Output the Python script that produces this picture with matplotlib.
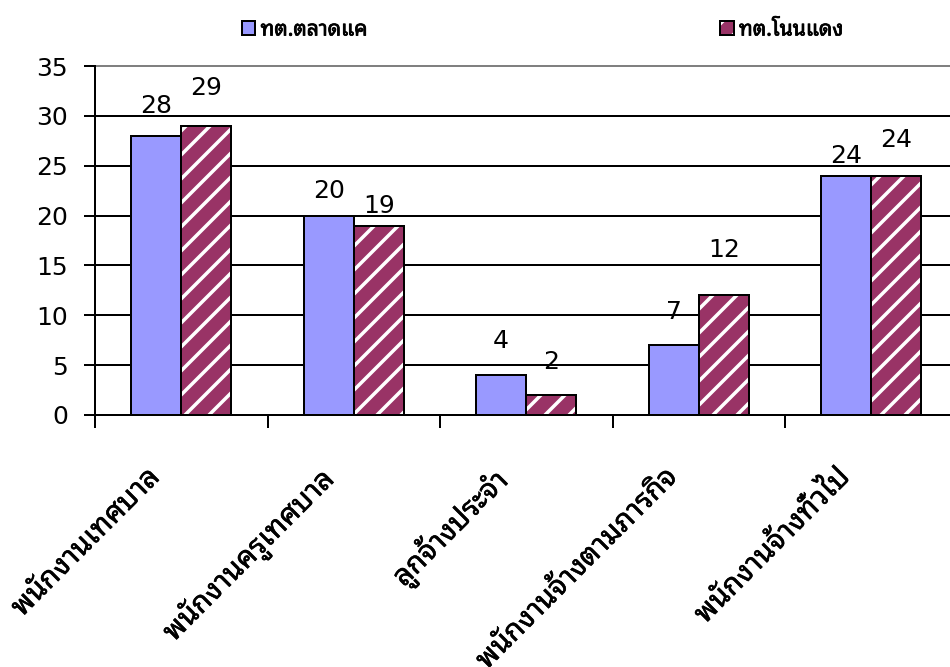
import matplotlib
matplotlib.use("Agg")
import matplotlib.pyplot as plt
import numpy as np
from matplotlib.patches import Patch
from matplotlib import patheffects as pe
from matplotlib.transforms import offset_copy, blended_transform_factory

# ---- data ----
categories = ["พนักงานเทศบาล", "พนักงานครูเทศบาล", "ลูกจ้างประจำ",
              "พนักงานจ้างตามภารกิจ", "พนักงานจ้างทั่วไป"]
series_names = ["ทต.ตลาดแค", "ทต.โนนแดง"]
talad_khae = [28, 20, 4, 7, 24]
non_daeng = [29, 19, 2, 12, 24]
y_ticks = [0, 5, 10, 15, 20, 25, 30, 35]

# ---- layout / style ----
label_offsets_a = [30, 25, 34, 33, 20]   # px above bar top (label centre)
label_offsets_b = [38, 20, 33, 45, 36]
blue = "#9999FF"
maroon = "#993366"
thai = ["Noto Sans Thai Looped", "DejaVu Sans"]

plt.rcParams["hatch.linewidth"] = 3.5

fig = plt.figure(figsize=(950 / 72, 667 / 72), dpi=72)
ax = fig.add_axes([95 / 950, 1 - 415 / 667, 862.5 / 950, 349 / 667])

n = len(categories)
x = np.arange(n) + 0.5
w = 0.29

ax.bar(x - w / 2, talad_khae, w, color=blue, edgecolor="black", linewidth=2, zorder=3)
ax.bar(x + w / 2, non_daeng, w, color=maroon, edgecolor="white", hatch="/", linewidth=0, zorder=3)
ax.bar(x + w / 2, non_daeng, w, fill=False, edgecolor="black", linewidth=2, zorder=4)

for xi, v, off in zip(x - w / 2, talad_khae, label_offsets_a):
    tr = offset_copy(ax.transData, fig=fig, x=0, y=off, units="dots")
    ax.text(xi, v, str(v), transform=tr, ha="center", va="center", fontsize=25,
            family="DejaVu Sans", zorder=5)
for xi, v, off in zip(x + w / 2, non_daeng, label_offsets_b):
    tr = offset_copy(ax.transData, fig=fig, x=0, y=off, units="dots")
    ax.text(xi, v, str(v), transform=tr, ha="center", va="center", fontsize=25,
            family="DejaVu Sans", zorder=5)

ax.set_xlim(0, n)
ax.set_ylim(0, 35)
ax.set_yticks(y_ticks)
ax.set_yticklabels([str(t) for t in y_ticks], fontsize=25, family="DejaVu Sans")
ax.tick_params(axis="y", length=11, width=2, direction="out", pad=16)

ax.set_xticks(np.arange(n + 1))
ax.set_xticklabels([])
ax.tick_params(axis="x", which="major", length=13, width=2, direction="out")

btr = blended_transform_factory(ax.transData, ax.transAxes)
ltr = offset_copy(btr, fig=fig, x=-36, y=-48, units="dots")
for xi, lab in zip(x, categories):
    t = ax.text(xi, 0, lab, transform=ltr, rotation=45, ha="right", va="top",
                rotation_mode="anchor", fontsize=29, family=thai, clip_on=False)
    t.set_path_effects([pe.withStroke(linewidth=0.6, foreground="black")])

ax.grid(axis="y", color="black", linewidth=2, zorder=0)
ax.set_axisbelow(True)
gl = ax.get_ygridlines()
gl[-1].set_color("#808080")
gl[-1].set_clip_on(False)
for s in ["top", "right"]:
    ax.spines[s].set_visible(False)
ax.spines["left"].set_linewidth(2)
ax.spines["bottom"].set_linewidth(2)
ax.spines["bottom"].set_zorder(6)

h1 = Patch(facecolor=blue, edgecolor="black", linewidth=2)
h2a = Patch(facecolor=maroon, edgecolor="white", hatch="/", linewidth=0)
h2b = Patch(fill=False, edgecolor="black", linewidth=2)
leg = fig.legend([h1, (h2a, h2b)], series_names, loc="center", bbox_to_anchor=(0.571, 1 - 30 / 667),
                 ncol=2, frameon=False, handlelength=0.65, handleheight=0.65, handletextpad=0.25,
                 columnspacing=16.8, prop={"family": thai, "size": 21})
for t in leg.get_texts():
    t.set_path_effects([pe.withStroke(linewidth=0.8, foreground="black")])

fig.savefig("out.png", dpi=72)
